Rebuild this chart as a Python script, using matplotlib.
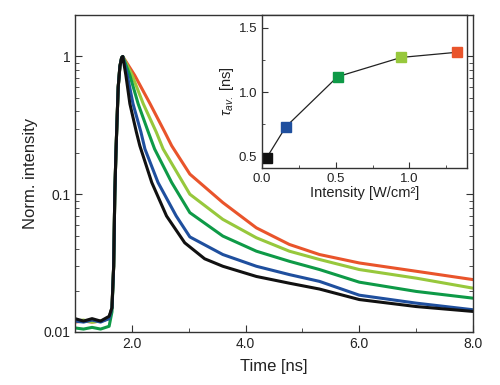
import matplotlib
matplotlib.use("Agg")
import matplotlib.pyplot as plt
from matplotlib.ticker import MultipleLocator, LogLocator, FixedLocator

plt.rcParams['font.family'] = ['Liberation Sans', 'DejaVu Sans']
plt.rcParams['mathtext.fontset'] = 'custom'
plt.rcParams['mathtext.rm'] = 'Liberation Sans'
plt.rcParams['mathtext.it'] = 'Liberation Sans:italic'

# decay curves (time in ns, normalised intensity)
rise_t = [1.00, 1.15, 1.30, 1.45, 1.60, 1.65, 1.68, 1.70, 1.72, 1.74, 1.76, 1.79, 1.82, 1.84]
rise_black = [0.0125, 0.012, 0.0125, 0.012, 0.013, 0.015, 0.03, 0.10, 0.20, 0.35, 0.60, 0.85, 0.98, 1.0]
rise_blue = [0.012, 0.0118, 0.0122, 0.0118, 0.0125, 0.015, 0.03, 0.10, 0.20, 0.35, 0.60, 0.85, 0.98, 1.0]
rise_green = [0.0107, 0.0105, 0.0108, 0.0105, 0.011, 0.014, 0.03, 0.10, 0.20, 0.35, 0.60, 0.85, 0.98, 1.0]
rise_lgreen = [0.012, 0.0122, 0.0118, 0.012, 0.0125, 0.015, 0.03, 0.10, 0.20, 0.35, 0.60, 0.85, 0.98, 1.0]
rise_orange = [0.0118, 0.012, 0.0118, 0.012, 0.0125, 0.015, 0.03, 0.10, 0.20, 0.35, 0.60, 0.85, 0.98, 1.0]

black_t = [1.895, 1.965, 2.08, 2.14, 2.35, 2.61, 2.93, 3.28, 3.60, 4.19, 4.77, 5.30, 6.0, 7.0, 8.0]
black_v = [0.73, 0.454, 0.282, 0.225, 0.1217, 0.0695, 0.0444, 0.0340, 0.030, 0.0253, 0.0226, 0.0205, 0.0172, 0.0153, 0.0141]
blue_t = [1.92, 2.02, 2.16, 2.23, 2.46, 2.78, 3.02, 3.60, 4.19, 4.77, 5.30, 6.0, 7.0, 8.0]
blue_v = [0.73, 0.454, 0.282, 0.213, 0.1217, 0.0695, 0.049, 0.0365, 0.030, 0.0261, 0.0233, 0.0185, 0.0162, 0.0145]
green_t = [1.965, 2.11, 2.29, 2.40, 2.70, 3.02, 3.60, 4.19, 4.77, 5.30, 6.0, 7.0, 8.0]
green_v = [0.73, 0.454, 0.282, 0.213, 0.1217, 0.0735, 0.0497, 0.0386, 0.0326, 0.0284, 0.023, 0.0197, 0.0176]
lgreen_t = [2.005, 2.20, 2.43, 2.55, 3.02, 3.60, 4.19, 4.77, 5.30, 6.0, 7.0, 8.0]
lgreen_v = [0.73, 0.454, 0.282, 0.213, 0.10, 0.0657, 0.0483, 0.0386, 0.0336, 0.0284, 0.0246, 0.0208]
orange_t = [2.05, 2.32, 2.58, 2.70, 3.02, 3.60, 4.19, 4.77, 5.30, 6.0, 7.0, 8.0]
orange_v = [0.73, 0.454, 0.282, 0.225, 0.14, 0.087, 0.057, 0.0432, 0.0365, 0.0317, 0.0276, 0.024]

# inset: average lifetime vs excitation intensity
intensity = [0.032, 0.161, 0.512, 0.943, 1.32]
tau_av = [0.49, 0.73, 1.12, 1.27, 1.31]

colors = {"orange": "#e9542b", "lgreen": "#97c83c", "green": "#0e9a47",
          "blue": "#1f4f9e", "black": "#111111"}

fig = plt.figure(figsize=(5, 3.85), dpi=100)
ax = fig.add_axes([0.15, 0.1377, 0.796, 0.8233])

curves = [
    ("orange", rise_orange, orange_t, orange_v),
    ("lgreen", rise_lgreen, lgreen_t, lgreen_v),
    ("green", rise_green, green_t, green_v),
    ("blue", rise_blue, blue_t, blue_v),
    ("black", rise_black, black_t, black_v),
]
for name, rise_v, t, v in curves:
    ax.plot(rise_t + t, rise_v + v, color=colors[name], lw=2.2,
            solid_joinstyle='round', solid_capstyle='round')

ax.set_yscale('log')
ax.set_xlim(1.0, 8.0)
ax.set_ylim(0.01, 2.0)
ax.xaxis.set_major_locator(FixedLocator([2.0, 4.0, 6.0, 8.0]))
ax.xaxis.set_minor_locator(FixedLocator([3.0, 5.0, 7.0]))
ax.set_xticklabels(["2.0", "4.0", "6.0", "8.0"])
ax.yaxis.set_minor_locator(LogLocator(base=10, subs=range(2, 10), numticks=10))
ax.set_yticks([0.01, 0.1, 1])
ax.set_yticklabels(["0.01", "0.1", "1"])
ax.tick_params(which='both', direction='in', right=True, labelsize=10, colors='#333333', labelcolor='#222222')
ax.tick_params(which='major', length=5)
ax.tick_params(which='minor', length=3)
for s in ax.spines.values():
    s.set_color('#333333')
    s.set_linewidth(1.0)
ax.set_xlabel("Time [ns]", fontsize=12, color='#222222', labelpad=6)
ax.set_ylabel("Norm. intensity", fontsize=12, color='#222222', labelpad=4)

ins = fig.add_axes([0.524, 0.5636, 0.41, 0.3974])
ins.plot(intensity, tau_av, color='#222222', lw=0.9, zorder=1)
for x, y, name in zip(intensity, tau_av, ["black", "blue", "green", "lgreen", "orange"]):
    ins.plot([x], [y], marker='s', ms=7, color=colors[name], mec=colors[name], zorder=2)
ins.set_xlim(0.0, 1.39)
ins.set_ylim(0.41, 1.6)
ins.xaxis.set_major_locator(MultipleLocator(0.5))
ins.xaxis.set_minor_locator(MultipleLocator(0.25))
ins.yaxis.set_major_locator(MultipleLocator(0.5))
ins.yaxis.set_minor_locator(MultipleLocator(0.25))
ins.tick_params(which='both', direction='in', labelsize=9.5, colors='#333333', labelcolor='#222222')
ins.tick_params(which='major', length=4)
ins.tick_params(which='minor', length=2.5)
for s in ins.spines.values():
    s.set_color('#333333')
    s.set_linewidth(1.0)
ins.xaxis.set_major_formatter(plt.FuncFormatter(lambda v, p: f"{v:.1f}"))
ins.yaxis.set_major_formatter(plt.FuncFormatter(lambda v, p: f"{v:.1f}"))
ins.set_xlabel("Intensity [W/cm²]", fontsize=10.5, color='#222222', labelpad=1)
ins.set_ylabel(r"$\tau_{av.}$ [ns]", fontsize=10.5, color='#222222', labelpad=2)

fig.savefig("out.png", dpi=100)
